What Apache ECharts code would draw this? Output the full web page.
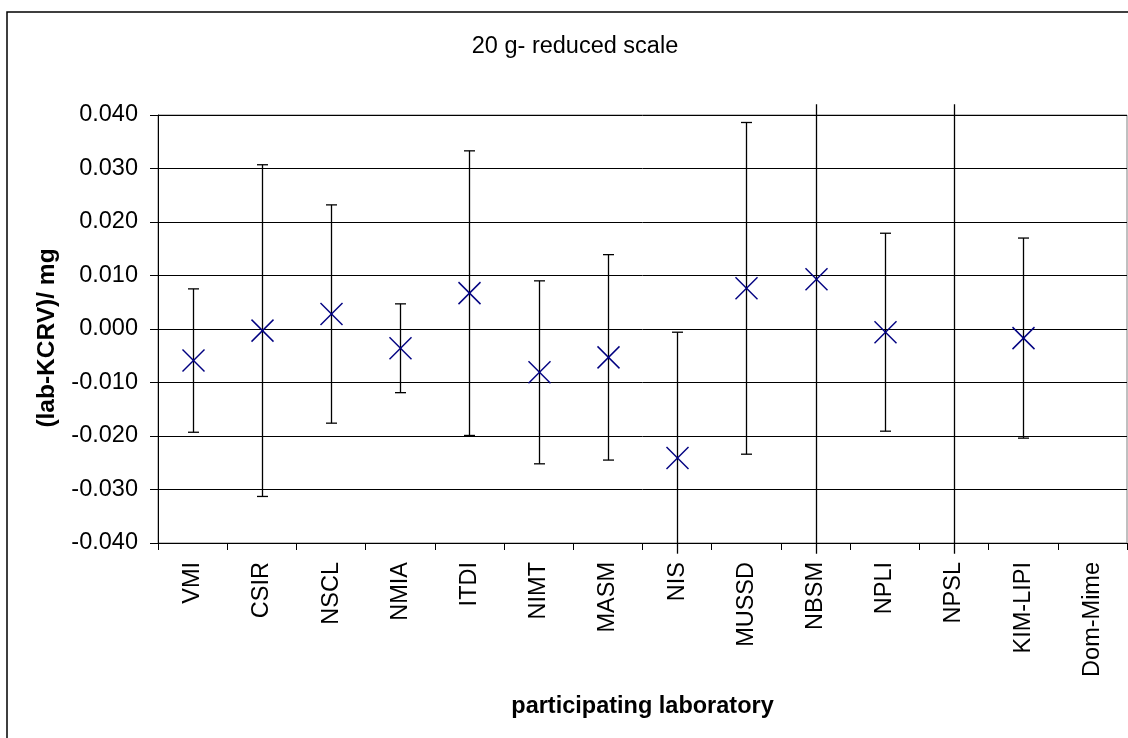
<!DOCTYPE html>
<html>
<head>
<meta charset="utf-8">
<script src="https://cdn.jsdelivr.net/npm/echarts@6/dist/echarts.min.js"></script>
<style>
html,body{margin:0;padding:0;background:#fff;}
#chart{width:1128px;height:738px;}
</style>
</head>
<body>
<div id="chart"></div>
<script>
// ---- data ----
const labs = ['VMI','CSIR','NSCL','NMIA','ITDI','NIMT','MASM','NIS','MUSSD','NBSM','NPLI','NPSL','KIM-LIPI','Dom-Mime'];
// lab - KCRV deviation (mg)
const deviation = [-0.0059,-0.0003,0.0028,-0.0036,0.0067,-0.0081,-0.0053,-0.0241,0.0076,0.0093,-0.0006,0.0500,-0.0017,null];
// expanded uncertainty (mg), symmetric error bars
const expandedU = [0.0134,0.0310,0.0204,0.0083,0.0266,0.0171,0.0192,0.0235,0.0310,0.0600,0.0185,0.1000,0.0187,null];
const yMin = -0.04, yMax = 0.04, yStep = 0.01;

const FONT = '"Liberation Sans", Arial, sans-serif';
const chart = echarts.init(document.getElementById('chart'), null, {renderer:'canvas'});

const seriesData = labs.map((l, i) => {
  const d = deviation[i], u = expandedU[i];
  if (d == null) return [i, '-', '-', '-'];
  return [i, d, d - u, d + u];
});

function renderItem(params, api) {
  const i = api.value(0), d = api.value(1), lo = api.value(2), hi = api.value(3);
  if (isNaN(d)) return null;
  const LIM = 0.042;
  const clo = Math.max(lo, -LIM), chi = Math.min(hi, LIM);
  const pLo = api.coord([i, clo]), pHi = api.coord([i, chi]);
  const x = Math.round(pLo[0]) + 0.5;
  const bar = {stroke:'#000', lineWidth:1.3};
  const children = [
    {type:'line', shape:{x1:x, y1:pHi[1], x2:x, y2:pLo[1]}, style:bar}
  ];
  const cap = 5.5;
  if (lo >= -LIM) children.push({type:'line', shape:{x1:x-cap, y1:pLo[1], x2:x+cap, y2:pLo[1]}, style:bar});
  if (hi <= LIM) children.push({type:'line', shape:{x1:x-cap, y1:pHi[1], x2:x+cap, y2:pHi[1]}, style:bar});
  if (d >= yMin && d <= yMax) {
    const p = api.coord([i, d]);
    const h = 11;
    const mk = {stroke:'#000080', lineWidth:1.5};
    children.push({type:'line', shape:{x1:x-h, y1:p[1]-h, x2:x+h, y2:p[1]+h}, style:mk, z2:5});
    children.push({type:'line', shape:{x1:x-h, y1:p[1]+h, x2:x+h, y2:p[1]-h}, style:mk, z2:5});
  }
  return {type:'group', children};
}

const option = {
  backgroundColor:'#fff',
  animation:false,
  textStyle:{fontFamily:FONT},
  grid:{left:158, right:1, top:115, bottom:195, show:true, borderColor:'#808080', borderWidth:1, backgroundColor:'transparent'},
  graphic:[
    {type:'rect', shape:{x:7, y:12, width:1300, height:900}, style:{fill:'none', stroke:'#000', lineWidth:1.5}, silent:true},
    {type:'text', x:575, y:47, style:{text:'20 g- reduced scale', font:'23.5px ' + FONT, fill:'#000', textAlign:'center', textVerticalAlign:'middle'}}
  ],
  xAxis:{
    type:'category', data:labs, boundaryGap:true,
    axisLine:{onZero:false, lineStyle:{color:'#000', width:1}},
    axisTick:{show:true, length:7, lineStyle:{color:'#000'}, alignWithLabel:false},
    axisLabel:{rotate:90, interval:0, margin:19, color:'#000', fontSize:23.5, fontFamily:FONT},
    splitLine:{show:false},
    name:'participating laboratory', nameLocation:'middle', nameGap:152,
    nameTextStyle:{fontSize:23.5, fontWeight:'bold', color:'#000', fontFamily:FONT}
  },
  yAxis:{
    type:'value', min:yMin, max:yMax, interval:yStep,
    axisLine:{show:true, lineStyle:{color:'#000', width:1}},
    axisTick:{show:true, length:8, lineStyle:{color:'#000'}},
    axisLabel:{margin:20, color:'#000', fontSize:23.5, fontFamily:FONT, formatter:v => v.toFixed(3)},
    splitLine:{show:true, lineStyle:{color:'#000', width:1}},
    name:'(lab-KCRV)/ mg', nameLocation:'middle', nameRotate:90, nameGap:98,
    nameTextStyle:{fontSize:24.5, fontWeight:'bold', color:'#000', fontFamily:FONT, padding:[0,18,0,0]}
  },
  series:[{
    type:'custom', renderItem, data:seriesData, clip:false,
    encode:{x:0, y:1}
  }]
};
chart.setOption(option);
</script>
</body>
</html>
